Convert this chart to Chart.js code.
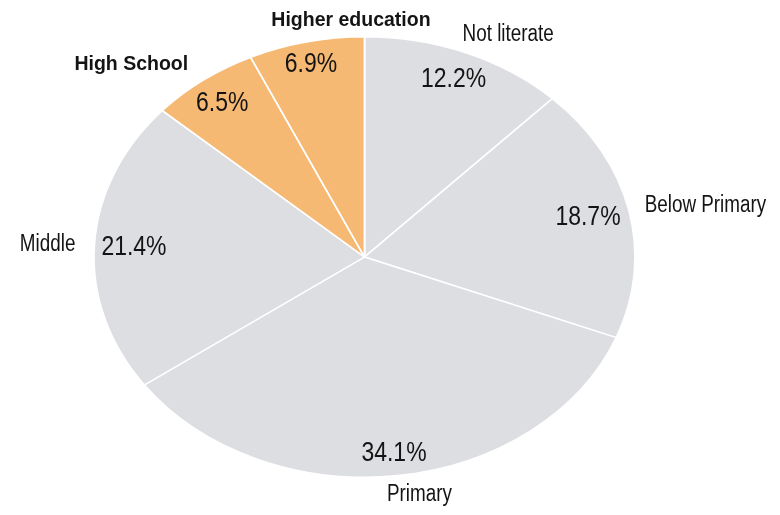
<!DOCTYPE html>
<html>
<head>
<meta charset="utf-8">
<script src="https://cdn.jsdelivr.net/npm/chart.js@4/dist/chart.umd.min.js"></script>
<style>
  html, body { margin: 0; padding: 0; background: #ffffff; }
  #wrap { width: 780px; height: 515px; position: relative; }
</style>
</head>
<body>
<div id="wrap"><canvas id="c" width="780" height="515"></canvas></div>
<script>
// ---- data ----
const categories = ['Not literate', 'Below Primary', 'Primary', 'Middle', 'High School', 'Higher education'];
const shares = [12.2, 18.7, 34.1, 21.4, 6.5, 6.9];
const highlighted = ['High School', 'Higher education'];

// ---- style / layout ----
const GREY = '#dddee2';
const ORANGE = '#f6b974';
const TEXT = '#141414';
const ASPECT_X = 271.5 / 221; // horizontal stretch of the pie (elliptical)
// label anchors, normalised to the ellipse radii (x / rx, y / ry from centre)
const pctPos = [[0.329, -0.807], [0.826, -0.179], [0.109, 0.890], [-0.852, -0.045], [-0.526, -0.700], [-0.198, -0.876]];
const namePos = [[0.531, -1.009], [1.260, -0.234], [0.203, 1.077], [-1.171, -0.056], [-0.862, -0.874], [-0.050, -1.074]];

const colors = categories.map(c => highlighted.includes(c) ? ORANGE : GREY);

function narrowAvailable(ctx) {
  ctx.save();
  ctx.font = '20px "Liberation Sans Narrow", monospace';
  const a = ctx.measureText('abcdefghijklmnop').width;
  ctx.font = '20px monospace';
  const b = ctx.measureText('abcdefghijklmnop').width;
  ctx.restore();
  return Math.abs(a - b) > 0.5;
}

function drawLabel(ctx, text, x, y, sizePx, bold, narrow, hasNarrow) {
  ctx.save();
  ctx.fillStyle = TEXT;
  ctx.textAlign = 'center';
  ctx.textBaseline = 'middle';
  const weight = bold ? 'bold ' : '';
  if (narrow && hasNarrow) {
    ctx.font = weight + sizePx + 'px "Liberation Sans Narrow", "Liberation Sans", Arial, sans-serif';
    ctx.fillText(text, x, y);
  } else if (narrow) {
    ctx.font = weight + sizePx + 'px "Liberation Sans", Arial, sans-serif';
    ctx.translate(x, y);
    ctx.scale(0.82, 1);
    ctx.fillText(text, 0, 0);
  } else {
    ctx.font = weight + sizePx + 'px "Liberation Sans", Arial, sans-serif';
    ctx.fillText(text, x, y);
  }
  ctx.restore();
}

const ellipsePlugin = {
  id: 'ellipse',
  beforeDatasetsDraw(chart) {
    const arc = chart.getDatasetMeta(0).data[0];
    const ctx = chart.ctx;
    ctx.save();
    ctx.translate(arc.x, arc.y);
    ctx.scale(ASPECT_X, 1);
    ctx.translate(-arc.x, -arc.y);
  },
  afterDatasetsDraw(chart) {
    chart.ctx.restore();
  }
};

const labelPlugin = {
  id: 'labels',
  afterDraw(chart) {
    const ctx = chart.ctx;
    const meta = chart.getDatasetMeta(0);
    const arc0 = meta.data[0];
    const cx = arc0.x, cy = arc0.y;
    const ry = arc0.outerRadius;
    const rx = ry * ASPECT_X;
    const hasNarrow = narrowAvailable(ctx);
    categories.forEach((cat, i) => {
      const v = chart.data.datasets[0].data[i];
      const p = pctPos[i], n = namePos[i];
      drawLabel(ctx, v.toFixed(1) + '%', cx + p[0] * rx, cy + p[1] * ry, 28, false, true, hasNarrow);
      const bold = highlighted.includes(cat);
      if (bold) {
        drawLabel(ctx, cat, cx + n[0] * rx, cy + n[1] * ry, 19.5, true, false, hasNarrow);
      } else {
        drawLabel(ctx, cat, cx + n[0] * rx, cy + n[1] * ry, 23, false, true, hasNarrow);
      }
    });
  }
};

new Chart(document.getElementById('c'), {
  type: 'pie',
  data: {
    labels: categories,
    datasets: [{
      data: shares,
      backgroundColor: colors,
      borderColor: '#ffffff',
      borderWidth: 1.5
    }]
  },
  options: {
    responsive: false,
    animation: false,
    events: [],
    layout: { padding: { left: 143.5, right: 194.5, top: 36, bottom: 37 } },
    plugins: {
      legend: { display: false },
      tooltip: { enabled: false },
      title: { display: false }
    }
  },
  plugins: [ellipsePlugin, labelPlugin]
});
</script>
</body>
</html>
